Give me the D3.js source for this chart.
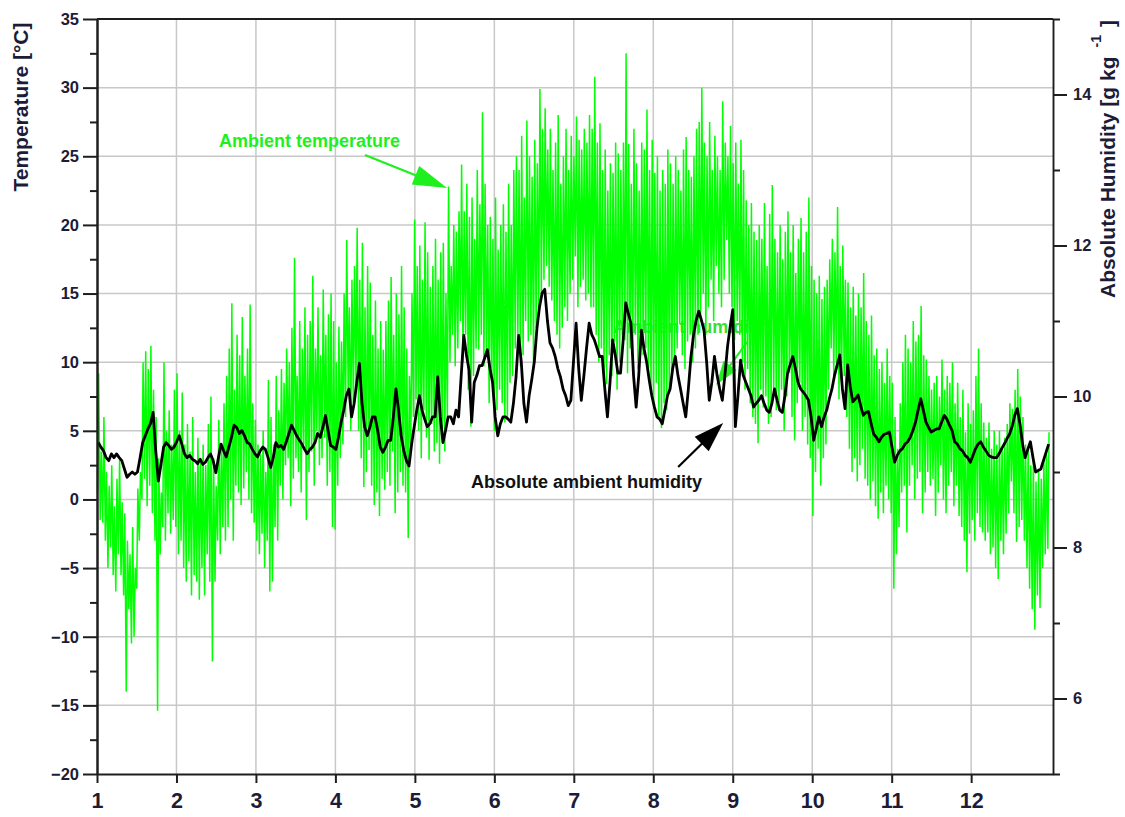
<!DOCTYPE html>
<html>
<head>
<meta charset="utf-8">
<script src="https://cdn.jsdelivr.net/npm/d3@7"></script>
<style>
  html, body { margin: 0; padding: 0; background: #fff; }
  svg text { font-family: "Liberation Sans", Arial, sans-serif; font-weight: bold; }
</style>
</head>
<body>
<svg id="chart" width="1125" height="817"></svg>
<script>
// Month tick positions along the bottom axis
const months = [1, 2, 3, 4, 5, 6, 7, 8, 9, 10, 11, 12];
// Left axis (temperature, °C)
const tempTicks = [-20, -15, -10, -5, 0, 5, 10, 15, 20, 25, 30, 35];
const tempMinorTicks = [-17.5, -12.5, -7.5, -2.5, 2.5, 7.5, 12.5, 17.5, 22.5, 27.5, 32.5];
// Right axis (absolute humidity, g/kg)
const humTicks = [6, 8, 10, 12, 14];
const humMinorTicks = [5, 7, 9, 11, 13, 15];

// Daily maximum ambient temperature, °C (day of year 0..364)
const tMax = [
  9.2, 3.5, 6.0, 2.0, 1.0, 2.5, -0.5, 1.5, 3.0, -0.2,
  -1.0, -3.0, -4.0, -2.0, -5.0, 0.8, 2.0, 10.0, 10.8, 9.5,
  11.2, 8.0, 6.0, 3.0, 0.5, 10.0, 5.0, 6.5, 4.0, 8.0,
  9.2, 5.0, 7.8, 4.0, 5.5, 3.5, 6.0, 2.0, 4.5, 3.0,
  4.0, 2.5, 5.5, 7.5, 3.0, 1.0, 5.8, 4.0, 7.0, 9.0,
  11.0, 14.3, 8.0, 12.0, 10.5, 13.3, 9.0, 11.0, 14.2, 7.0,
  5.8, 4.0, 3.3, 5.0, 2.0, 8.7, 6.0, 4.0, 9.0, 6.5,
  9.5, 8.5, 11.0, 10.0, 12.5, 17.6, 9.0, 13.0, 11.0, 14.0,
  12.0, 13.0, 16.3, 11.0, 14.0, 10.5, 15.3, 12.0, 13.5, 15.0,
  13.0, 10.0, 12.6, 11.5, 15.0, 18.9, 14.0, 16.0, 17.0, 19.8,
  16.0, 18.7, 14.0, 17.0, 15.8, 12.0, 14.5, 11.0, 13.0, 10.9,
  13.0, 14.5, 16.2, 12.0, 15.0, 13.5, 17.0, 14.0, 11.0, 9.0,
  15.0, 20.4, 17.0, 18.5, 16.0, 20.2, 18.0, 15.5, 17.0, 19.0,
  16.0, 18.0, 18.7, 15.0, 22.8, 17.0, 20.0, 19.5, 21.0, 24.4,
  21.0, 23.0, 20.6, 22.0, 19.0, 24.0, 21.5, 28.2, 23.0, 20.0,
  20.6, 19.0, 22.0, 18.2, 20.0, 21.5, 19.5, 23.0, 20.0, 24.0,
  25.0, 24.0, 26.5, 22.0, 27.6, 25.0, 23.5, 26.2, 24.5, 29.9,
  27.0, 28.5, 25.5, 27.0, 24.0, 26.0, 28.0, 23.0, 25.0, 27.0,
  24.0, 26.5, 25.0, 27.9, 26.2, 25.5, 27.0, 26.0, 28.0, 27.0,
  30.8, 26.0, 27.4, 24.0, 25.5, 22.5, 24.5, 23.8, 26.0, 25.2,
  24.0, 26.0, 32.5, 25.9, 23.0, 27.0, 24.5, 22.5, 26.0, 25.5,
  28.4, 24.0, 26.2, 23.8, 25.0, 22.5, 24.0, 23.0, 25.5, 24.5,
  23.0, 25.0, 24.0, 22.5, 25.5, 26.4, 24.0, 23.5, 25.0, 27.0,
  27.5, 30.0, 26.0, 25.0, 27.5, 24.0, 26.5, 25.0, 24.0, 29.0,
  26.0, 25.0, 27.2, 24.5, 26.0, 23.0, 26.2, 24.0, 21.8, 20.0,
  21.6, 19.5, 18.9, 20.0, 19.0, 21.6, 17.0, 20.8, 22.9, 19.0,
  18.0, 20.0, 17.5, 19.5, 21.0, 18.0, 20.0, 16.5, 19.0, 20.5,
  18.0, 19.5, 22.0, 17.0, 16.0, 15.0, 16.3, 14.6, 15.5, 16.0,
  17.5, 19.0, 18.0, 21.3, 17.0, 18.5, 16.0, 15.8, 14.0, 15.5,
  13.4, 15.0, 14.0, 16.5, 13.0, 12.0, 13.4, 10.5, 11.0, 9.5,
  10.0, 8.5, 11.0, 9.0, 8.5, 6.0, 3.7, 7.0, 10.0, 12.0,
  11.0, 10.0, 13.0, 11.5, 12.0, 14.1, 10.5, 10.2, 9.0, 8.0,
  8.5, 9.0, 7.5, 10.2, 8.0, 9.0, 8.5, 10.0, 7.0, 8.5,
  6.0, 8.0, 4.9, 7.0, 5.5, 6.5, 9.0, 11.0, 7.0, 5.6,
  4.5, 5.6, 3.7, 5.0, 4.0, 5.0, 3.8, 4.5, 5.5, 7.0,
  6.6, 8.0, 9.5, 7.5, 6.0, 4.0, 3.7, 2.5, 3.0, 1.3,
  2.0, 1.5, 3.0, 3.7, 4.9
];

// Daily minimum ambient temperature, °C
const tMin = [
  0.5, -1.5, -1.7, -3.0, -5.0, -3.5, -5.5, -6.7, -4.0, -5.5,
  -7.0, -14.0, -8.0, -10.5, -10.0, -6.5, -3.0, 0.0, 1.5, -0.5,
  1.0, -1.0, -3.0, -15.4, -4.0, -2.0, -3.0, -1.0, -2.5, -1.5,
  -2.0, -4.0, -3.0, -5.0, -6.0, -4.5, -7.0, -5.5, -6.0, -7.3,
  -5.0, -7.0, -4.0, -6.0, -11.8, -6.0, -3.0, -4.0, -2.0, -3.0,
  -2.0, 0.0, -3.0, 1.0, 0.5, -0.4, 0.8, 2.0, 0.0, -1.0,
  -1.7, -3.0, -4.0, -2.5, -5.0, -3.0, -6.7, -6.0, -2.0, -3.0,
  1.0, 0.0, 2.5, 3.0, -0.5, 1.5, 3.0, 2.0, 0.5, 4.0,
  -1.5, 2.0, 3.5, 1.0, 5.0, 2.5, 3.0, 4.5, 1.0, 2.0,
  -2.0, -2.2, 1.0, 3.0, 4.0, 6.0, 8.0, 5.0, 7.0, 8.5,
  5.0, 3.0, 0.9, 2.0, 3.6, 1.0, -0.4, 0.5, -1.2, 1.5,
  0.7, 2.0, 1.0, 3.5, -1.0, 0.5, 2.0, 1.0, 0.5, -2.8,
  4.0, 6.0, 7.3, 5.0, 3.0, 6.5, 4.5, 2.9, 5.5, 3.5,
  4.1, 2.6, 5.0, 3.5, 6.0, 10.0, 12.0, 9.7, 11.0, 13.0,
  10.0, 12.0, 8.0, 5.3, 9.0, 11.0, 10.9, 12.0, 9.7, 10.5,
  7.0, 8.5, 5.0, 6.5, 8.0, 7.0, 5.6, 6.0, 8.5, 9.0,
  11.0, 12.0, 9.7, 10.5, 13.0, 11.5, 12.0, 10.0, 12.5, 14.0,
  15.0, 16.0, 17.0, 15.5, 14.5, 13.0, 12.0, 11.0, 12.5, 14.0,
  13.0, 15.0, 16.0, 17.7, 14.0, 15.5, 16.0, 14.5, 15.0, 14.0,
  14.0, 12.0, 10.0, 11.0, 9.2, 8.4, 10.5, 9.0, 11.5, 8.0,
  10.0, 12.0, 11.6, 9.2, 11.0, 10.0, 12.0, 9.5, 11.0, 10.5,
  11.0, 9.0, 8.0, 7.0, 8.5, 6.0, 5.2, 7.0, 6.5, 8.0,
  9.2, 10.0, 11.0, 12.8, 10.5, 9.5, 11.5, 12.0, 10.0, 11.0,
  12.0, 13.5, 15.0, 12.0, 14.0, 16.0, 13.0, 17.0, 15.0, 14.0,
  16.0, 18.9, 15.0, 14.0, 11.6, 13.0, 12.0, 10.0, 8.0, 9.5,
  7.0, 6.0, 5.5, 4.1, 8.0, 6.7, 7.5, 5.5, 6.0, 8.0,
  6.5, 7.0, 8.0, 5.0, 7.5, 9.2, 6.0, 4.3, 7.0, 8.5,
  5.0, 6.0, 4.0, 3.0, -1.2, 2.0, 3.7, 1.0, 3.0, 4.0,
  8.0, 11.0, 9.0, 10.0, 7.3, 8.5, 9.0, 6.0, 3.7, 2.0,
  3.0, 1.3, 2.5, 3.7, 1.5, 1.0, 0.0, 1.3, -0.5, -1.4,
  0.5, -1.0, 1.0, 0.0, -1.0, -6.5, -4.0, -2.0, 0.5, 1.0,
  -2.4, 1.0, 2.5, 0.0, 1.5, 2.0, -1.0, 0.5, 2.0, 1.0,
  1.5, -1.2, 0.5, 2.5, 0.0, -1.0, 1.0, 2.0, -0.5, 1.0,
  -1.2, -2.0, -3.0, -5.3, -2.5, -1.5, -3.0, -1.0, -2.0, -2.4,
  -3.0, -2.4, -4.0, -3.5, -5.0, -5.8, -3.0, -4.0, -2.5, -1.0,
  1.3, -1.0, -3.1, -2.0, -1.5, -3.0, -5.0, -6.5, -8.0, -9.5,
  -7.0, -7.9, -5.0, -4.0, -3.6
];

// Daily mean absolute ambient humidity, g/kg
const humidity = [
  9.39, 9.33, 9.28, 9.19, 9.15, 9.24, 9.19, 9.24, 9.19, 9.15,
  9.04, 8.93, 8.97, 9.00, 8.97, 9.00, 9.19, 9.39, 9.48, 9.57,
  9.64, 9.79, 9.28, 8.88, 9.10, 9.33, 9.39, 9.35, 9.30, 9.33,
  9.40, 9.48, 9.37, 9.24, 9.19, 9.22, 9.17, 9.15, 9.11, 9.17,
  9.10, 9.13, 9.19, 9.24, 9.15, 8.99, 9.19, 9.37, 9.28, 9.20,
  9.33, 9.46, 9.62, 9.59, 9.51, 9.55, 9.48, 9.39, 9.37, 9.30,
  9.24, 9.20, 9.28, 9.33, 9.30, 9.19, 9.06, 9.19, 9.39, 9.33,
  9.35, 9.30, 9.40, 9.51, 9.62, 9.55, 9.48, 9.42, 9.37, 9.30,
  9.24, 9.30, 9.33, 9.39, 9.51, 9.46, 9.59, 9.75, 9.55, 9.35,
  9.33, 9.30, 9.46, 9.66, 9.82, 10.01, 10.10, 9.73, 9.91, 10.19,
  10.44, 9.91, 9.60, 9.48, 9.59, 9.73, 9.73, 9.55, 9.33, 9.26,
  9.33, 9.42, 9.42, 9.73, 10.10, 9.82, 9.48, 9.28, 9.15, 9.08,
  9.37, 9.60, 9.82, 10.01, 9.82, 9.70, 9.60, 9.64, 9.73, 9.73,
  10.26, 9.73, 9.39, 9.55, 9.73, 9.73, 9.64, 9.82, 9.73, 10.28,
  10.81, 10.55, 10.35, 9.66, 10.19, 10.28, 10.41, 10.41, 10.51, 10.62,
  10.37, 10.19, 9.73, 9.48, 9.64, 9.73, 9.73, 9.70, 9.66, 9.91,
  10.26, 10.81, 10.46, 9.91, 9.66, 10.01, 10.22, 10.46, 10.90, 11.19,
  11.37, 11.42, 11.01, 10.71, 10.64, 10.53, 10.37, 10.26, 10.10, 10.01,
  9.88, 9.95, 10.46, 10.97, 10.37, 9.95, 10.28, 10.64, 10.97, 10.82,
  10.75, 10.64, 10.53, 10.53, 10.10, 9.73, 10.19, 10.75, 10.55, 10.31,
  10.31, 10.73, 11.24, 11.10, 10.97, 10.28, 9.86, 10.28, 10.88, 10.64,
  10.46, 10.22, 10.01, 9.86, 9.73, 9.70, 9.64, 9.82, 10.01, 10.10,
  10.37, 10.53, 10.28, 10.10, 9.91, 9.73, 10.10, 10.53, 10.82, 11.01,
  11.13, 11.01, 10.88, 10.46, 9.95, 10.19, 10.53, 10.28, 10.10, 9.95,
  10.28, 10.66, 10.92, 11.15, 9.60, 10.01, 10.48, 10.28, 10.19, 10.10,
  10.01, 9.86, 9.91, 9.95, 10.01, 9.91, 9.82, 9.79, 9.91, 10.10,
  9.95, 9.82, 9.79, 10.01, 10.31, 10.42, 10.53, 10.37, 10.19, 10.10,
  10.06, 10.01, 9.95, 9.73, 9.42, 9.57, 9.73, 9.60, 9.73, 9.82,
  9.97, 10.10, 10.28, 10.42, 10.55, 10.10, 9.84, 10.42, 10.13, 9.93,
  9.97, 10.02, 9.88, 9.75, 9.79, 9.80, 9.64, 9.50, 9.46, 9.40,
  9.46, 9.50, 9.51, 9.53, 9.33, 9.13, 9.22, 9.28, 9.31, 9.37,
  9.40, 9.46, 9.55, 9.66, 9.82, 9.97, 9.82, 9.66, 9.59, 9.53,
  9.55, 9.57, 9.57, 9.66, 9.75, 9.70, 9.62, 9.55, 9.40, 9.37,
  9.31, 9.28, 9.22, 9.19, 9.13, 9.22, 9.31, 9.37, 9.40, 9.33,
  9.28, 9.22, 9.20, 9.19, 9.19, 9.24, 9.31, 9.37, 9.44, 9.50,
  9.60, 9.75, 9.84, 9.64, 9.37, 9.19, 9.30, 9.40, 9.19, 9.00,
  9.02, 9.04, 9.15, 9.26, 9.37
];

// ---- layout ----
const svg = d3.select("#chart");
const plot = { left: 97, right: 1053, top: 19, bottom: 774 };
const DAYS_PER_MONTH = 365.25 / 12;
const axisColor = "#1e1e1e";
const labelColor = "#1c1c38";
const green = "#00ff00";

const x = d3.scaleLinear().domain([1, 13.03]).range([plot.left, plot.right]);
const yT = d3.scaleLinear().domain([-20, 35]).range([plot.bottom, plot.top]);
const yH = d3.scaleLinear().domain([5, 15]).range([plot.bottom, plot.top]);
const dayToMonth = d => 1 + d / DAYS_PER_MONTH;

svg.append("rect").attr("width", 1125).attr("height", 817).attr("fill", "#fff");

// ---- grid ----
const grid = svg.append("g").attr("stroke", "#c8c8c8").attr("stroke-width", 1.5);
grid.selectAll("line.v").data(months.slice(1)).join("line")
  .attr("x1", d => x(d)).attr("x2", d => x(d))
  .attr("y1", plot.top).attr("y2", plot.bottom);
grid.selectAll("line.h").data(tempTicks.filter(t => t > -20 && t < 35)).join("line")
  .attr("x1", plot.left).attr("x2", plot.right)
  .attr("y1", d => yT(d)).attr("y2", d => yT(d));

// ---- arrow helper (positions given in data units) ----
function arrow(g, from, to, color, headLen, headW, width) {
  const x0 = x(from[0]), y0 = yT(from[1]), x1 = x(to[0]), y1 = yT(to[1]);
  const dx = x1 - x0, dy = y1 - y0, len = Math.hypot(dx, dy);
  const ux = dx / len, uy = dy / len, px = -uy, py = ux;
  const bx = x1 - ux * headLen, by = y1 - uy * headLen;
  g.append("line").attr("x1", x0).attr("y1", y0).attr("x2", bx + ux * 2).attr("y2", by + uy * 2)
    .attr("stroke", color).attr("stroke-width", width);
  g.append("path")
    .attr("d", `M${x1},${y1}L${bx + px * headW / 2},${by + py * headW / 2}L${bx - px * headW / 2},${by - py * headW / 2}Z`)
    .attr("fill", color);
}

// Label for the humidity trace that sits beneath the data
const under = svg.append("g");
under.append("text").attr("x", x(7.495)).attr("y", yT(12.13))
  .attr("font-size", 18).attr("fill", "#33e033").text("Ambient humidity");
arrow(under, [9.18, 11.47], [8.79, 8.34], "#22ee22", 24, 16, 2);

// ---- series ----
const tempSeries = [];
tMax.forEach((hi, i) => {
  tempSeries.push({ m: dayToMonth(i + 0.2), v: tMin[i] });
  tempSeries.push({ m: dayToMonth(i + 0.65), v: hi });
});
const humSeries = humidity.map((h, i) => ({ m: dayToMonth(i + 0.5), v: h }));

svg.append("path").datum(tempSeries)
  .attr("fill", "none").attr("stroke", green).attr("stroke-width", 1.5)
  .attr("stroke-linejoin", "bevel")
  .attr("d", d3.line().x(d => x(d.m)).y(d => yT(d.v)));

svg.append("path").datum(humSeries)
  .attr("fill", "none").attr("stroke", "#000").attr("stroke-width", 2.8)
  .attr("stroke-linejoin", "round")
  .attr("d", d3.line().x(d => x(d.m)).y(d => yH(d.v)));

// ---- axes ----
function styleAxis(g) {
  g.selectAll(".domain").attr("stroke", axisColor).attr("stroke-width", 2);
  g.selectAll(".tick line").attr("stroke", axisColor).attr("stroke-width", 2);
  g.selectAll(".tick text").attr("fill", labelColor);
}

const left = svg.append("g").attr("transform", `translate(${plot.left},0)`)
  .call(d3.axisLeft(yT).tickValues(tempTicks).tickSize(14).tickSizeOuter(0).tickPadding(4));
left.selectAll(".tick text").attr("font-family", "'DejaVu Sans', sans-serif")
  .attr("font-size", 16.5).attr("font-weight", "bold");
styleAxis(left);
const leftMinor = svg.append("g").attr("transform", `translate(${plot.left},0)`)
  .call(d3.axisLeft(yT).tickValues(tempMinorTicks).tickSize(7).tickSizeOuter(0).tickFormat(""));
styleAxis(leftMinor);

const right = svg.append("g").attr("transform", `translate(${plot.right},0)`)
  .call(d3.axisRight(yH).tickValues(humTicks).tickSize(14).tickSizeOuter(0).tickPadding(6));
right.selectAll(".tick text").attr("font-family", "'DejaVu Sans', sans-serif")
  .attr("font-size", 16.5).attr("font-weight", "bold");
styleAxis(right);
right.select(".domain").attr("stroke-width", 1.5);
const rightMinor = svg.append("g").attr("transform", `translate(${plot.right},0)`)
  .call(d3.axisRight(yH).tickValues(humMinorTicks).tickSize(7).tickSizeOuter(0).tickFormat(""));
styleAxis(rightMinor);
rightMinor.select(".domain").attr("stroke-width", 1.5);

const bottom = svg.append("g").attr("transform", `translate(0,${plot.bottom})`)
  .call(d3.axisBottom(x).tickValues(months).tickSize(9).tickSizeOuter(0).tickPadding(10));
bottom.selectAll(".tick text").attr("font-size", 21.5);
styleAxis(bottom);

// top frame
svg.append("line").attr("x1", plot.left).attr("x2", plot.right)
  .attr("y1", plot.top).attr("y2", plot.top)
  .attr("stroke", axisColor).attr("stroke-width", 2);

// ---- axis titles ----
svg.append("text").attr("transform", "translate(28,107) rotate(-90)")
  .attr("text-anchor", "middle").attr("font-size", 21).attr("fill", labelColor)
  .text("Temperature [°C]");

const rTitle = svg.append("text").attr("transform", "translate(1115,298) rotate(-90)")
  .attr("font-size", 21).attr("fill", labelColor);
rTitle.append("tspan").text("Absolute Humidity [g kg");
rTitle.append("tspan").attr("dx", 9).attr("dy", -14).attr("font-size", 14).text("-1");
rTitle.append("tspan").attr("dx", 8).attr("dy", 14).text("]");

// ---- annotations ----
const notes = svg.append("g");
notes.append("text").attr("x", x(2.536)).attr("y", yT(25.71))
  .attr("font-size", 18).attr("fill", "#1ef01e").text("Ambient temperature");
arrow(notes, [4.373, 25.09], [5.405, 22.69], "#1ef01e", 34, 20, 2.2);

notes.append("text").attr("x", x(5.705)).attr("y", yT(0.83))
  .attr("font-size", 18).attr("fill", "#111").text("Absolute ambient humidity");
arrow(notes, [8.313, 2.36], [8.879, 5.57], "#000", 30, 20, 2.2);
</script>
</body>
</html>
